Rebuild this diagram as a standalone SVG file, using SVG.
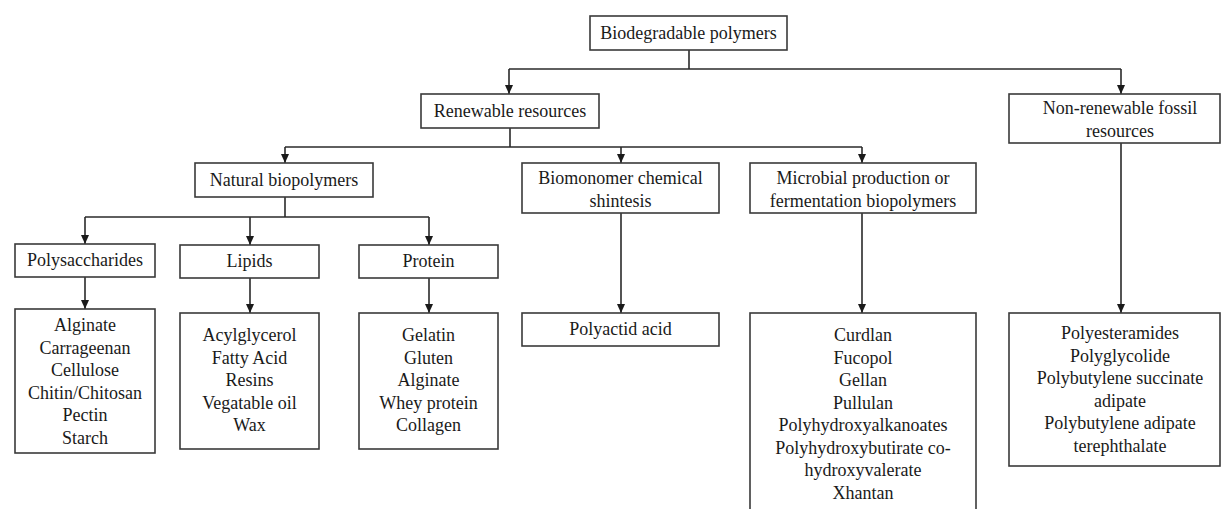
<svg xmlns="http://www.w3.org/2000/svg" width="1222" height="509" viewBox="0 0 1222 509">
<style>
.box{fill:#fff;stroke:#3a3a3a;stroke-width:1.6}
.t{font-family:"Liberation Serif","Times New Roman",serif;font-size:18px;fill:#1a1a1a;text-anchor:middle}
.c{fill:none;stroke:#2a2a2a;stroke-width:1.6}
</style>
<defs>
<marker id="ah" markerWidth="10" markerHeight="8" refX="9" refY="4" orient="auto" markerUnits="userSpaceOnUse">
<path d="M0,0 L9,4 L0,8 Z" fill="#1a1a1a"/>
</marker>
</defs>
<rect width="1222" height="509" fill="#fff"/>
<g id="connectors">
<path class="c" d="M689,50 V69"/>
<path class="c" d="M509,69 H1121"/>
<path class="c" d="M509,69 V94" marker-end="url(#ah)"/>
<path class="c" d="M1121,69 V94" marker-end="url(#ah)"/>
<path class="c" d="M510,128 V147"/>
<path class="c" d="M285,147 H862"/>
<path class="c" d="M285,147 V163" marker-end="url(#ah)"/>
<path class="c" d="M621,147 V163" marker-end="url(#ah)"/>
<path class="c" d="M862,147 V163" marker-end="url(#ah)"/>
<path class="c" d="M285,197 V217"/>
<path class="c" d="M85,217 H429"/>
<path class="c" d="M85,217 V244" marker-end="url(#ah)"/>
<path class="c" d="M250,217 V245" marker-end="url(#ah)"/>
<path class="c" d="M429,217 V245" marker-end="url(#ah)"/>
<path class="c" d="M85,277 V309" marker-end="url(#ah)"/>
<path class="c" d="M250,278 V313" marker-end="url(#ah)"/>
<path class="c" d="M429,278 V313" marker-end="url(#ah)"/>
<path class="c" d="M621,213 V313" marker-end="url(#ah)"/>
<path class="c" d="M862,213 V313" marker-end="url(#ah)"/>
<path class="c" d="M1121,143 V313" marker-end="url(#ah)"/>
</g>
<g id="root">
<rect class="box" x="590" y="16" width="197" height="34"/>
<text class="t" x="688.5" y="39">Biodegradable polymers</text>
</g>
<g id="renewable">
<rect class="box" x="421" y="94" width="178" height="34"/>
<text class="t" x="510" y="117">Renewable resources</text>
</g>
<g id="nonrenewable">
<rect class="box" x="1009" y="94" width="211" height="49"/>
<text class="t" x="1120" y="114">Non-renewable fossil</text>
<text class="t" x="1120" y="137">resources</text>
</g>
<g id="natural">
<rect class="box" x="195" y="163" width="178" height="34"/>
<text class="t" x="284" y="186">Natural biopolymers</text>
</g>
<g id="biomonomer">
<rect class="box" x="522" y="163" width="197" height="50"/>
<text class="t" x="620.5" y="184">Biomonomer chemical</text>
<text class="t" x="620.5" y="207">shintesis</text>
</g>
<g id="microbial">
<rect class="box" x="750" y="163" width="226" height="50"/>
<text class="t" x="863" y="184">Microbial production or</text>
<text class="t" x="863" y="207">fermentation biopolymers</text>
</g>
<g id="polysaccharides">
<rect class="box" x="15" y="244" width="140" height="33"/>
<text class="t" x="85" y="266">Polysaccharides</text>
</g>
<g id="lipids">
<rect class="box" x="180" y="245" width="139" height="33"/>
<text class="t" x="249.5" y="267">Lipids</text>
</g>
<g id="protein">
<rect class="box" x="359" y="245" width="139" height="33"/>
<text class="t" x="428.5" y="267">Protein</text>
</g>
<g id="polysaccharides-list">
<rect class="box" x="15" y="309" width="140" height="144"/>
<text class="t" x="85" y="331">Alginate</text>
<text class="t" x="85" y="353.5">Carrageenan</text>
<text class="t" x="85" y="376">Cellulose</text>
<text class="t" x="85" y="398.5">Chitin/Chitosan</text>
<text class="t" x="85" y="421">Pectin</text>
<text class="t" x="85" y="443.5">Starch</text>
</g>
<g id="lipids-list">
<rect class="box" x="180" y="313" width="139" height="136"/>
<text class="t" x="249.5" y="341">Acylglycerol</text>
<text class="t" x="249.5" y="363.5">Fatty Acid</text>
<text class="t" x="249.5" y="386">Resins</text>
<text class="t" x="249.5" y="408.5">Vegatable oil</text>
<text class="t" x="249.5" y="431">Wax</text>
</g>
<g id="protein-list">
<rect class="box" x="359" y="313" width="139" height="136"/>
<text class="t" x="428.5" y="341">Gelatin</text>
<text class="t" x="428.5" y="363.5">Gluten</text>
<text class="t" x="428.5" y="386">Alginate</text>
<text class="t" x="428.5" y="408.5">Whey protein</text>
<text class="t" x="428.5" y="431">Collagen</text>
</g>
<g id="polyactid">
<rect class="box" x="522" y="313" width="197" height="33"/>
<text class="t" x="620.5" y="335">Polyactid acid</text>
</g>
<g id="microbial-list">
<rect class="box" x="750" y="313" width="226" height="210"/>
<text class="t" x="863" y="341">Curdlan</text>
<text class="t" x="863" y="363.5">Fucopol</text>
<text class="t" x="863" y="386">Gellan</text>
<text class="t" x="863" y="408.5">Pullulan</text>
<text class="t" x="863" y="431">Polyhydroxyalkanoates</text>
<text class="t" x="863" y="453.5">Polyhydroxybutirate co-</text>
<text class="t" x="863" y="476">hydroxyvalerate</text>
<text class="t" x="863" y="498.5">Xhantan</text>
</g>
<g id="fossil-list">
<rect class="box" x="1009" y="313" width="211" height="153"/>
<text class="t" x="1120" y="339">Polyesteramides</text>
<text class="t" x="1120" y="361.5">Polyglycolide</text>
<text class="t" x="1120" y="384">Polybutylene succinate</text>
<text class="t" x="1120" y="406.5">adipate</text>
<text class="t" x="1120" y="429">Polybutylene adipate</text>
<text class="t" x="1120" y="451.5">terephthalate</text>
</g>
</svg>
